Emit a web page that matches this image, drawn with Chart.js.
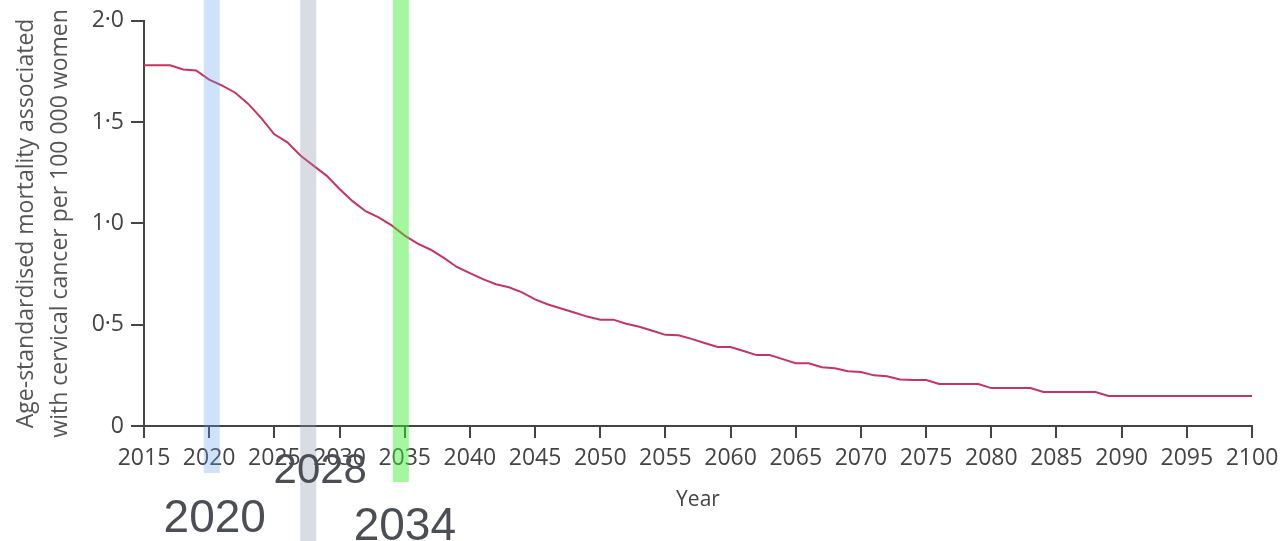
<!DOCTYPE html>
<html>
<head>
<meta charset="utf-8">
<script src="https://cdn.jsdelivr.net/npm/chart.js@4"></script>
<style>
   body { margin: 0; background: #fff; }
   #wrap { width: 1281px; height: 541px; position: relative; }
</style>
</head>
<body>
<div id="wrap"><canvas id="grafica"></canvas></div>
<script>
// datos
const years = [];
for (let y = 2015; y <= 2100; y++) years.push(y);

const mortality = [
   1.78, 1.78, 1.78, 1.76, 1.755, 1.71, 1.68, 1.645, 1.59, 1.52,   // 2015-2024
   1.44, 1.40, 1.335, 1.285, 1.236, 1.17, 1.11, 1.06, 1.03, 0.99,  // 2025-2034
   0.94, 0.90, 0.87, 0.83, 0.785, 0.755, 0.725, 0.70, 0.685, 0.66, // 2035-2044
   0.625, 0.60, 0.58, 0.56, 0.54, 0.525, 0.525, 0.505, 0.49, 0.47, // 2045-2054
   0.45, 0.448, 0.43, 0.41, 0.39, 0.39, 0.37, 0.35, 0.35, 0.33,    // 2055-2064
   0.31, 0.31, 0.29, 0.285, 0.27, 0.266, 0.25, 0.246, 0.23, 0.227, // 2065-2074
   0.227, 0.207, 0.207, 0.207, 0.207, 0.187, 0.187, 0.187, 0.187, 0.168, // 2075-2084
   0.168, 0.168, 0.168, 0.168, 0.148, 0.148, 0.148, 0.148, 0.148, 0.148, // 2085-2094
   0.148, 0.148, 0.148, 0.148, 0.148, 0.148                        // 2095-2100
];

const yTicks = [0, 0.5, 1.0, 1.5, 2.0];
const bandYears = [2020.2, 2027.6, 2034.7];
const bandLabels = ['2020', '2028', '2034'];

const bandStyles = [
   { color: 'rgba(100,160,240,0.3)', bottom: 473, dx: 3, base: 532, size: 46 },
   { color: 'rgba(140,150,170,0.33)', bottom: 541, dx: 12, base: 483, size: 42 },
   { color: 'rgba(60,240,50,0.47)', bottom: 482, dx: 4, base: 540, size: 46 }
];

const bandas = {
   id: 'bandas',
   afterDatasetsDraw(chart) {
      const ctx = chart.ctx;
      const x = chart.scales.x;
      ctx.save();
      bandYears.forEach((yr, i) => {
         const st = bandStyles[i];
         const cx = x.getPixelForValue(yr);
         ctx.fillStyle = st.color;
         ctx.fillRect(cx - 8, 0, 16, st.bottom);
      });
      bandYears.forEach((yr, i) => {
         const st = bandStyles[i];
         const cx = x.getPixelForValue(yr);
         ctx.fillStyle = '#4b4f55';
         ctx.font = st.size + 'px "Liberation Sans", Arial, sans-serif';
         ctx.textAlign = 'center';
         ctx.textBaseline = 'alphabetic';
         ctx.fillText(bandLabels[i], cx + st.dx, st.base);
      });
      ctx.restore();
   }
};

const tickFont = { family: '"Open Sans", sans-serif', size: 23 };
const axisColor = '#444';

const chart = new Chart(document.getElementById('grafica').getContext('2d'), {
   type: 'line',
   data: {
      labels: years,
      datasets: [{
         data: years.map((y, i) => ({ x: y, y: mortality[i] })),
         borderColor: '#c9335f',
         borderWidth: 2,
         pointRadius: 0,
         tension: 0,
         fill: false
      }]
   },
   options: {
      responsive: true,
      maintainAspectRatio: false,
      animation: false,
      layout: { padding: { left: 0, right: 29, top: 20, bottom: 0 } },
      plugins: { legend: { display: false }, tooltip: { enabled: false } },
      scales: {
         x: {
            type: 'linear',
            min: 2015,
            max: 2100,
            afterFit: s => { s.height = 115; s.paddingRight = 0; },
            border: { display: true, color: axisColor, width: 2 },
            grid: { drawOnChartArea: false, drawTicks: true, tickLength: 12, color: axisColor, lineWidth: 2 },
            ticks: {
               stepSize: 5,
               autoSkip: false,
               maxRotation: 0,
               padding: 7,
               color: axisColor,
               font: tickFont,
               callback: v => String(v)
            },
            title: {
               display: true,
               text: 'Year',
               color: axisColor,
               font: { family: '"Open Sans", sans-serif', size: 21 },
               padding: { top: 0, bottom: 28 }
            }
         },
         y: {
            min: 0,
            max: 2,
            afterFit: s => { s.width = 144; },
            afterBuildTicks: s => { s.ticks = yTicks.map(v => ({ value: v })); },
            border: { display: true, color: axisColor, width: 2 },
            grid: { drawOnChartArea: false, drawTicks: true, tickLength: 13, color: axisColor, lineWidth: 2 },
            ticks: {
               padding: 7,
               color: axisColor,
               font: tickFont,
               callback: v => v === 0 ? '0' : v.toFixed(1).replace('.', '·')
            },
            title: {
               display: true,
               text: ['Age-standardised mortality associated', 'with cervical cancer per 100 000 women'],
               color: '#555',
               font: { family: '"Open Sans", sans-serif', size: 23, lineHeight: 1.5 },
               padding: { top: 9, bottom: 0 }
            }
         }
      }
   },
   plugins: [bandas]
});
</script>
</body>
</html>
